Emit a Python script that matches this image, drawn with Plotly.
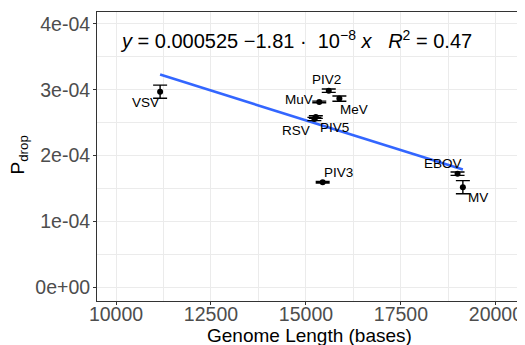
import plotly.graph_objects as go

# ---- data ----
viruses = ["VSV", "PIV2", "MuV", "MeV", "RSV", "PIV5", "PIV3", "EBOV", "MV"]
genome_length = [11161, 15600, 15350, 15880, 15222, 15260, 15440, 18990, 19130]
p_drop = [2.97e-4, 2.985e-4, 2.815e-4, 2.865e-4, 2.555e-4, 2.585e-4, 1.595e-4, 1.725e-4, 1.52e-4]
p_err = [0.10e-4, 0.025e-4, 0.012e-4, 0.04e-4, 0.025e-4, 0.02e-4, 0.012e-4, 0.025e-4, 0.10e-4]

fit_intercept = 0.000525
fit_slope = -1.81e-8
fit_r2 = 0.47

x_ticks = [10000, 12500, 15000, 17500, 20000]
x_tick_labels = ["10000", "12500", "15000", "17500", "20000"]
y_ticks = [0, 1e-4, 2e-4, 3e-4, 4e-4]
y_tick_labels = ["0e+00", "1e-04", "2e-04", "3e-04", "4e-04"]

# label offsets (px) relative to points
label_shift = {
    "VSV": (-15, -11), "PIV2": (-2, 11), "MuV": (-20, 2), "MeV": (15, -11),
    "RSV": (-18, -11), "PIV5": (19, -10), "PIV3": (16, 10), "EBOV": (-15, 10),
    "MV": (15, -10),
}

FONT = "Liberation Sans, Arial, sans-serif"

fig = go.Figure()

xmin, xmax = min(genome_length), max(genome_length)
fig.add_trace(go.Scatter(
    x=[xmin, xmax],
    y=[fit_intercept + fit_slope * xmin, fit_intercept + fit_slope * xmax],
    mode="lines", line=dict(color="#3366FF", width=2.6),
    hoverinfo="skip", showlegend=False,
))

fig.add_trace(go.Scatter(
    x=genome_length, y=p_drop, mode="markers",
    marker=dict(color="black", size=6),
    error_y=dict(type="data", array=p_err, visible=True, color="black",
                 thickness=1.4, width=7),
    showlegend=False,
))

for name, gx, py in zip(viruses, genome_length, p_drop):
    dx, dy = label_shift[name]
    fig.add_annotation(x=gx, y=py, text=name, showarrow=False,
                       xshift=dx, yshift=dy,
                       font=dict(family=FONT, size=13.5, color="black"))

eq = (f"<i>y</i> = {fit_intercept:.6f} \u2212{abs(fit_slope)*1e8:.2f} \u00b7  10<sup>\u22128</sup> <i>x</i>"
      f"   <i>R</i><sup>2</sup> = {fit_r2:.2f}")
fig.add_annotation(xref="paper", yref="paper", x=0.05, y=0.904,
                   xanchor="left", yanchor="middle", text=eq, showarrow=False,
                   font=dict(family=FONT, size=20, color="black"))

# axis titles as annotations for exact placement
fig.add_annotation(xref="paper", yref="paper", x=0.5, y=-0.118,
                   xanchor="center", yanchor="middle", showarrow=False,
                   text="Genome Length (bases)",
                   font=dict(family=FONT, size=19, color="black"))
fig.add_annotation(xref="paper", yref="paper", x=-0.183, y=0.505,
                   xanchor="center", yanchor="middle", showarrow=False, textangle=-90,
                   text="P<sub>drop</sub>",
                   font=dict(family=FONT, size=19, color="black"))

grid = "#EBEBEB"
# the page body adds an 8px margin, so the figure is 8px smaller on each side
fig.update_layout(
    width=517, height=337,
    margin=dict(l=89, r=4, t=4, b=44),
    paper_bgcolor="white", plot_bgcolor="white",
    font=dict(family=FONT),
    xaxis=dict(
        range=[9500, 20660], tickvals=x_ticks, ticktext=x_tick_labels,
        automargin=False,
        showgrid=True, gridcolor=grid, gridwidth=1.1,
        minor=dict(dtick=1250, tick0=8750, showgrid=True, gridcolor=grid, gridwidth=0.6),
        ticks="outside", ticklen=3, tickcolor="#333333",
        ticklabelstandoff=-7,
        tickfont=dict(size=19.5, color="#4D4D4D"),
        showline=True, linecolor="#333333", linewidth=1, mirror=True,
        zeroline=False,
    ),
    yaxis=dict(
        range=[-0.208e-4, 4.18e-4], tickvals=y_ticks, ticktext=y_tick_labels,
        automargin=False,
        showgrid=True, gridcolor=grid, gridwidth=1.1,
        minor=dict(dtick=0.5e-4, tick0=0.5e-4, showgrid=True, gridcolor=grid, gridwidth=0.6),
        ticks="outside", ticklen=3, tickcolor="#333333",
        ticklabelstandoff=-1,
        tickfont=dict(size=19.5, color="#4D4D4D"),
        showline=True, linecolor="#333333", linewidth=1, mirror=True,
        zeroline=False,
    ),
)

fig.write_html("out.html")
